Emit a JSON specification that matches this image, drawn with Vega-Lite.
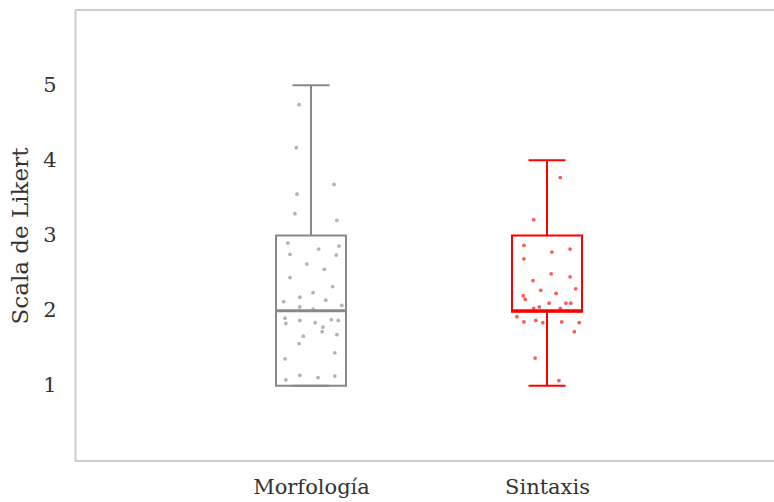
{
  "$schema": "https://vega.github.io/schema/vega-lite/v6.json",
  "autosize": {"type": "none"},
  "padding": {"left": 75, "top": 10, "right": 0, "bottom": 41},
  "width": 699,
  "height": 451,
  "background": "white",
  "config": {
    "view": {"stroke": null},
    "font": "DejaVu Serif",
    "axis": {"labelFont": "DejaVu Serif", "titleFont": "DejaVu Serif", "labelColor": "#333333", "titleColor": "#333333", "grid": false, "ticks": false, "domainColor": "#cccccc", "domainWidth": 2}
  },
  "datasets": {
    "stats": [
      {"grupo": "Morfología", "min": 1, "q1": 1, "median": 2, "q3": 3, "max": 5},
      {"grupo": "Sintaxis", "min": 1, "q1": 1.985, "median": 2, "q3": 3, "max": 4}
    ],
    "puntos": [
      {"grupo": "Morfología", "valor": 4.74, "jitter": -0.17},
      {"grupo": "Morfología", "valor": 4.17, "jitter": -0.21},
      {"grupo": "Morfología", "valor": 3.68, "jitter": 0.33},
      {"grupo": "Morfología", "valor": 3.55, "jitter": -0.2},
      {"grupo": "Morfología", "valor": 3.29, "jitter": -0.23},
      {"grupo": "Morfología", "valor": 3.2, "jitter": 0.37},
      {"grupo": "Morfología", "valor": 2.9, "jitter": -0.33},
      {"grupo": "Morfología", "valor": 2.82, "jitter": 0.11},
      {"grupo": "Morfología", "valor": 2.86, "jitter": 0.4},
      {"grupo": "Morfología", "valor": 2.75, "jitter": -0.3},
      {"grupo": "Morfología", "valor": 2.74, "jitter": 0.36},
      {"grupo": "Morfología", "valor": 2.62, "jitter": -0.06},
      {"grupo": "Morfología", "valor": 2.55, "jitter": 0.19},
      {"grupo": "Morfología", "valor": 2.44, "jitter": -0.3},
      {"grupo": "Morfología", "valor": 2.32, "jitter": 0.31},
      {"grupo": "Morfología", "valor": 2.24, "jitter": 0.03},
      {"grupo": "Morfología", "valor": 2.18, "jitter": -0.16},
      {"grupo": "Morfología", "valor": 2.12, "jitter": -0.39},
      {"grupo": "Morfología", "valor": 2.14, "jitter": 0.21},
      {"grupo": "Morfología", "valor": 2.07, "jitter": 0.44},
      {"grupo": "Morfología", "valor": 2.05, "jitter": -0.16},
      {"grupo": "Morfología", "valor": 2.02, "jitter": 0.03},
      {"grupo": "Morfología", "valor": 1.9, "jitter": -0.37},
      {"grupo": "Morfología", "valor": 1.83, "jitter": -0.36},
      {"grupo": "Morfología", "valor": 1.87, "jitter": -0.16},
      {"grupo": "Morfología", "valor": 1.84, "jitter": 0.06},
      {"grupo": "Morfología", "valor": 1.88, "jitter": 0.29},
      {"grupo": "Morfología", "valor": 1.87, "jitter": 0.39},
      {"grupo": "Morfología", "valor": 1.78, "jitter": 0.17},
      {"grupo": "Morfología", "valor": 1.72, "jitter": 0.16},
      {"grupo": "Morfología", "valor": 1.66, "jitter": -0.11},
      {"grupo": "Morfología", "valor": 1.68, "jitter": 0.37},
      {"grupo": "Morfología", "valor": 1.56, "jitter": -0.17},
      {"grupo": "Morfología", "valor": 1.44, "jitter": 0.34},
      {"grupo": "Morfología", "valor": 1.36, "jitter": -0.37},
      {"grupo": "Morfología", "valor": 1.08, "jitter": -0.36},
      {"grupo": "Morfología", "valor": 1.14, "jitter": -0.16},
      {"grupo": "Morfología", "valor": 1.11, "jitter": 0.1},
      {"grupo": "Morfología", "valor": 1.13, "jitter": 0.34},
      {"grupo": "Sintaxis", "valor": 3.77, "jitter": 0.19},
      {"grupo": "Sintaxis", "valor": 3.21, "jitter": -0.19},
      {"grupo": "Sintaxis", "valor": 2.87, "jitter": -0.33},
      {"grupo": "Sintaxis", "valor": 2.78, "jitter": 0.07},
      {"grupo": "Sintaxis", "valor": 2.82, "jitter": 0.33},
      {"grupo": "Sintaxis", "valor": 2.69, "jitter": -0.33},
      {"grupo": "Sintaxis", "valor": 2.49, "jitter": 0.06},
      {"grupo": "Sintaxis", "valor": 2.45, "jitter": 0.33},
      {"grupo": "Sintaxis", "valor": 2.4, "jitter": -0.2},
      {"grupo": "Sintaxis", "valor": 2.27, "jitter": -0.09},
      {"grupo": "Sintaxis", "valor": 2.29, "jitter": 0.41},
      {"grupo": "Sintaxis", "valor": 2.23, "jitter": 0.13},
      {"grupo": "Sintaxis", "valor": 2.2, "jitter": -0.34},
      {"grupo": "Sintaxis", "valor": 2.15, "jitter": -0.31},
      {"grupo": "Sintaxis", "valor": 2.1, "jitter": 0.03},
      {"grupo": "Sintaxis", "valor": 2.1, "jitter": 0.27},
      {"grupo": "Sintaxis", "valor": 2.1, "jitter": 0.34},
      {"grupo": "Sintaxis", "valor": 2.03, "jitter": -0.19},
      {"grupo": "Sintaxis", "valor": 2.05, "jitter": -0.11},
      {"grupo": "Sintaxis", "valor": 2.03, "jitter": 0.19},
      {"grupo": "Sintaxis", "valor": 1.92, "jitter": -0.43},
      {"grupo": "Sintaxis", "valor": 1.85, "jitter": -0.33},
      {"grupo": "Sintaxis", "valor": 1.87, "jitter": -0.16},
      {"grupo": "Sintaxis", "valor": 1.84, "jitter": -0.06},
      {"grupo": "Sintaxis", "valor": 1.85, "jitter": 0.21},
      {"grupo": "Sintaxis", "valor": 1.84, "jitter": 0.46},
      {"grupo": "Sintaxis", "valor": 1.72, "jitter": 0.39},
      {"grupo": "Sintaxis", "valor": 1.37, "jitter": -0.17},
      {"grupo": "Sintaxis", "valor": 1.07, "jitter": 0.17}
    ]
  },
  "layer": [
    {
      "data": {"name": "stats"},
      "mark": {"type": "rule", "strokeWidth": 2},
      "encoding": {
        "x": {
          "field": "grupo", "type": "nominal",
          "scale": {"type": "point", "domain": ["Morfología", "Sintaxis"], "range": [236, 472], "padding": 0},
          "axis": {"title": null, "labelAngle": 0, "labelFontSize": 21, "labelPadding": 15, "domain": false}
        },
        "y": {"field": "min", "type": "quantitative", "scale": {"domain": [0, 6], "nice": false, "zero": false},
          "axis": {"title": "Scala de Likert", "values": [1, 2, 3, 4, 5], "format": "d", "labelFontSize": 21, "labelPadding": 19, "titleFontSize": 23, "titleFontWeight": "normal", "titlePadding": 10}},
        "y2": {"field": "max"},
        "color": {"field": "grupo", "type": "nominal", "scale": {"domain": ["Morfología", "Sintaxis"], "range": ["#888888", "#ff0000"]}, "legend": null}
      }
    },
    {
      "data": {"name": "stats"},
      "mark": {"type": "bar", "size": 70, "fill": "white", "strokeWidth": 2},
      "encoding": {
        "x": {"field": "grupo", "type": "nominal"},
        "y": {"field": "q1", "type": "quantitative"},
        "y2": {"field": "q3"},
        "stroke": {"field": "grupo", "type": "nominal", "scale": {"domain": ["Morfología", "Sintaxis"], "range": ["#888888", "#ff0000"]}, "legend": null}
      }
    },
    {
      "data": {"name": "stats"},
      "mark": {"type": "tick", "size": 70, "thickness": 3, "orient": "horizontal", "opacity": 1},
      "encoding": {
        "x": {"field": "grupo", "type": "nominal"},
        "y": {"field": "median", "type": "quantitative"},
        "color": {"field": "grupo", "type": "nominal", "legend": null}
      }
    },
    {
      "data": {"name": "stats"},
      "mark": {"type": "tick", "size": 37, "thickness": 2, "orient": "horizontal", "opacity": 1},
      "encoding": {
        "x": {"field": "grupo", "type": "nominal"},
        "y": {"field": "max", "type": "quantitative"},
        "color": {"field": "grupo", "type": "nominal", "legend": null}
      }
    },
    {
      "data": {"name": "stats"},
      "mark": {"type": "tick", "size": 37, "thickness": 2, "orient": "horizontal", "opacity": 1},
      "encoding": {
        "x": {"field": "grupo", "type": "nominal"},
        "y": {"field": "min", "type": "quantitative"},
        "color": {"field": "grupo", "type": "nominal", "legend": null}
      }
    },
    {
      "data": {"name": "puntos"},
      "mark": {"type": "circle", "size": 14, "opacity": 0.65},
      "encoding": {
        "x": {"field": "grupo", "type": "nominal"},
        "y": {"field": "valor", "type": "quantitative"},
        "xOffset": {"field": "jitter", "type": "quantitative", "scale": {"domain": [-0.5, 0.5], "range": [-35, 35]}},
        "color": {"field": "grupo", "type": "nominal", "legend": null}
      }
    },
    {
      "data": {"values": [{"borde": 6}, {"borde": 0}]},
      "mark": {"type": "rule", "color": "#cccccc", "strokeWidth": 2},
      "encoding": {"y": {"field": "borde", "type": "quantitative"}}
    }
  ]
}
